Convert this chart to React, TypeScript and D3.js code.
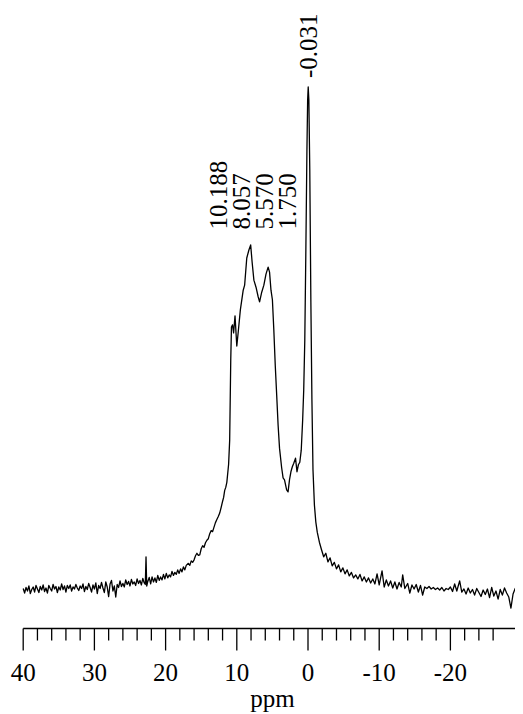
import React from "react";
import * as d3 from "d3";

// Spectrum: [ppm, relative intensity]
const baselineLeft: [number, number][] = [
  [40.0, 0.3], [39.8, -0.6], [39.6, 0.5], [39.4, -0.2], [39.2, 0.8], [39.0, -0.7], [38.8, 0.1], [38.6, 0.6],
  [38.4, -0.4], [38.2, 0.9], [38.0, 0.2], [37.8, -0.5], [37.6, 0.7], [37.4, 0.0], [37.2, 1.0], [37.0, -0.3],
  [36.8, 0.4], [36.6, -0.6], [36.4, 0.9], [36.2, 0.3], [36.0, -0.2], [35.8, 1.1], [35.6, 0.2], [35.4, 0.7],
  [35.2, -0.5], [35.0, 0.6], [34.8, 0.0], [34.6, 1.2], [34.4, 0.1], [34.2, 0.8], [34.0, -0.4], [33.8, 0.9],
  [33.6, 0.3], [33.4, 1.0], [33.2, -0.2], [33.0, 0.6], [32.8, 0.2], [32.6, 1.1], [32.4, 0.4], [32.2, -0.1],
  [32.0, 0.8], [31.8, 0.3], [31.6, 1.2], [31.4, -0.3], [31.2, 0.7], [31.0, 0.1], [30.8, 1.3], [30.6, 0.5],
  [30.4, -0.4], [30.2, 1.0], [30.0, 0.2], [29.8, 1.4], [29.6, -0.7], [29.4, 0.9], [29.2, 0.3], [29.0, 1.5],
  [28.8, 0.4], [28.6, -0.5], [28.4, 1.6], [28.2, 0.6], [28.0, -1.3], [27.8, 1.2], [27.6, 1.9], [27.4, -0.2],
  [27.2, 0.8], [27.0, -1.4], [26.8, 1.1], [26.6, 0.5], [26.4, 1.8], [26.2, 0.7], [26.0, 1.3], [25.8, 0.6],
  [25.6, 2.0], [25.4, 1.1], [25.2, 1.7], [25.0, 0.8], [24.8, 2.1], [24.6, 1.2], [24.4, 1.6], [24.2, 0.9],
  [24.0, 2.2], [23.8, 1.3], [23.6, 1.9], [23.4, 1.0], [23.2, 2.3], [23.0, 1.4], [22.85, 1.1], [22.75, 6.6],
  [22.65, 0.8], [22.5, 1.7], [22.3, 2.5], [22.1, 1.2], [21.9, 2.6], [21.7, 1.6], [21.5, 2.4], [21.3, 1.5],
  [21.1, 2.9], [20.9, 1.9], [20.7, 2.6], [20.5, 2.0], [20.3, 3.1], [20.1, 2.2], [19.9, 3.3], [19.7, 2.4],
  [19.5, 3.0], [19.3, 2.6], [19.1, 3.7], [18.9, 2.9], [18.7, 3.5], [18.5, 3.1], [18.3, 4.0], [18.1, 3.3],
  [17.9, 4.2], [17.7, 3.6], [17.5, 4.6], [17.3, 4.0], [17.1, 4.9], [16.8, 5.3], [16.6, 4.9], [16.4, 5.8],
  [16.2, 5.5], [16.0, 6.0], [15.8, 6.8], [15.6, 7.3], [15.4, 6.9], [15.2, 7.0], [15.0, 8.2], [14.8, 8.8],
  [14.6, 8.5], [14.4, 9.4], [14.2, 9.9], [14.0, 10.2], [13.8, 11.2], [13.6, 11.8], [13.4, 11.6], [13.2, 12.5],
  [13.0, 13.4], [12.8, 14.0], [12.6, 14.6], [12.4, 15.3], [12.2, 16.4], [12.0, 17.6], [11.85, 18.4],
  [11.7, 19.8], [11.55, 20.4], [11.4, 21.4], [11.15, 25.0],
];

const broadBands: [number, number][] = [
  [11.0, 29.8], [10.85, 45.7], [10.75, 52.3], [10.6, 52.7], [10.45, 51.1], [10.25, 54.5], [10.0, 48.5],
  [9.8, 51.3], [9.5, 55.7], [9.1, 59.6], [8.9, 60.6], [8.6, 66.0], [8.3, 67.6], [8.05, 68.6], [7.85, 65.2],
  [7.6, 61.6], [7.3, 60.2], [7.0, 58.3], [6.8, 57.3], [6.5, 59.2], [6.2, 60.6], [5.9, 62.8], [5.6, 64.2],
  [5.4, 63.2], [5.2, 59.6], [5.0, 57.7], [4.8, 51.7], [4.6, 44.7], [4.4, 38.8], [4.2, 32.8], [4.0, 28.2],
  [3.7, 24.3], [3.5, 22.3], [3.3, 21.9], [3.0, 19.9], [2.8, 19.5], [2.6, 21.9], [2.4, 23.5], [2.2, 24.5],
  [2.0, 25.2], [1.75, 26.2], [1.55, 23.5], [1.35, 24.9], [1.15, 25.4], [0.95, 27.8],
];

const mainPeak: [number, number][] = [
  [0.75, 33.8], [0.6, 39.8], [0.45, 49.7], [0.3, 67.6], [0.15, 87.5], [0.05, 97.4], [-0.03, 100],
  [-0.12, 97.4], [-0.25, 83.5], [-0.4, 57.7], [-0.55, 37.8], [-0.7, 23.9], [-0.9, 16.9], [-1.1, 13.5],
  [-1.3, 11.5], [-1.6, 9.5], [-1.9, 8.0], [-2.2, 6.6],
];

const baselineRight: [number, number][] = [
  [-2.5, 7.3], [-2.8, 5.6], [-3.1, 6.4], [-3.4, 4.8], [-3.7, 5.5], [-4.0, 4.2], [-4.3, 5.0], [-4.6, 3.6],
  [-4.9, 4.4], [-5.2, 3.2], [-5.5, 4.0], [-5.8, 2.8], [-6.1, 3.5], [-6.4, 2.4], [-6.7, 3.0], [-7.0, 2.2],
  [-7.3, 3.1], [-7.6, 1.8], [-7.9, 2.6], [-8.2, 1.6], [-8.5, 2.4], [-8.8, 1.4], [-9.1, 2.2], [-9.4, 1.2],
  [-9.7, 3.2], [-10.0, 1.0], [-10.4, 3.8], [-10.7, 0.6], [-11.0, 2.0], [-11.3, 0.8], [-11.6, 1.8], [-11.9, 0.4],
  [-12.2, 1.6], [-12.5, 0.2], [-12.8, 1.5], [-13.1, 0.6], [-13.3, 3.0], [-13.6, 0.3], [-14.0, 1.3], [-14.3, -0.6],
  [-14.6, 1.0], [-14.9, 0.2], [-15.2, 1.1], [-15.5, -0.4], [-15.8, 0.9], [-16.1, -1.0], [-16.4, 0.6], [-16.7, 0.3],
  [-17.0, 0.7], [-17.3, 0.2], [-17.6, 0.5], [-17.9, 0.1], [-18.2, 0.4], [-18.5, 0.0], [-18.8, 0.5], [-19.1, -0.2],
  [-19.4, 0.3], [-19.7, 0.1], [-20.0, 0.6], [-20.3, -0.3], [-20.6, 1.2], [-20.9, -0.2], [-21.3, 1.8], [-21.6, -0.4],
  [-21.9, 0.2], [-22.2, -0.8], [-22.5, 0.4], [-22.8, -0.6], [-23.1, 0.1], [-23.4, -1.0], [-23.7, 0.3], [-24.0, -0.5],
  [-24.3, -1.3], [-24.6, 0.0], [-24.9, -0.9], [-25.2, 0.2], [-25.5, -1.5], [-25.8, 0.5], [-26.1, -1.2], [-26.4, -0.2],
  [-26.7, -1.8], [-27.0, 0.1], [-27.3, -1.0], [-27.6, 0.4], [-27.9, -0.6], [-28.2, -1.4], [-28.5, -3.6], [-28.8, -0.8],
  [-29.1, 0.3], [-29.4, -0.5], [-29.7, 0.2], [-30.0, -0.3],
];

const peakLabels = ["10.188", "8.057", "5.570", "1.750"];
const mainPeakLabel = "-0.031";
const mainPeakPpm = -0.031;
const majorTicks = [40, 30, 20, 10, 0, -10, -20];
const minorTicks = [38, 36, 34, 32, 28, 26, 24, 22, 18, 16, 14, 12, 8, 6, 4, 2, -2, -4, -6, -8, -12, -14, -16, -18, -22, -24, -26];
const axisTitle = "ppm";

const W = 523;
const H = 714;
const O = 8; // body margin offset: page coordinate = svg coordinate + 8

export default function App() {
  const x = d3.scaleLinear().domain([40, -30]).range([23.2 - O, 521.6 - O]);
  const y = d3.scaleLinear().domain([0, 100]).range([590 - O, 87 - O]);
  const data = [...baselineLeft, ...broadBands, ...mainPeak, ...baselineRight];
  const line = d3
    .line<[number, number]>()
    .x((d) => x(d[0]))
    .y((d) => y(d[1]));
  const axisY = 628.5 - O;
  const labelX0 = 226.5 - O;
  const labelStep = 23;
  return (
    <svg width={W} height={H}>
      <style>{`.ttl { font-family: "Liberation Serif"; font-size: 25px; }`}</style>
      <path d={line(data) || ""} fill="none" stroke="#000" strokeWidth={1.3} strokeLinejoin="round" />
      <line x1={x(40)} x2={x(-30)} y1={axisY} y2={axisY} stroke="#000" strokeWidth={1.3} />
      {majorTicks.map((t) => (
        <g key={"M" + t}>
          <line x1={x(t)} x2={x(t)} y1={axisY} y2={axisY + 22} stroke="#000" strokeWidth={1.3} />
          <text x={x(t)} y={681 - O} textAnchor="middle" fontFamily="Liberation Serif" fontSize={25}>
            {String(t)}
          </text>
        </g>
      ))}
      {minorTicks.map((t) => (
        <line key={"m" + t} x1={x(t)} x2={x(t)} y1={axisY} y2={axisY + 12} stroke="#000" strokeWidth={1.3} />
      ))}
      <text className="ttl" x={(x(40) + x(-30)) / 2} y={707 - O} textAnchor="middle">
        {axisTitle}
      </text>
      {peakLabels.map((l, i) => (
        <text
          key={l}
          transform={`translate(${labelX0 + i * labelStep},${229.5 - O}) rotate(-90)`}
          style={{ fontFamily: `"Liberation Serif"`, fontSize: "25px" }}
        >
          {l}
        </text>
      ))}
      <text
        transform={`translate(${x(mainPeakPpm) + 8.5},${78 - O}) rotate(-90)`}
        style={{ fontFamily: `"Liberation Serif"`, fontSize: "25px" }}
      >
        {mainPeakLabel}
      </text>
    </svg>
  );
}
